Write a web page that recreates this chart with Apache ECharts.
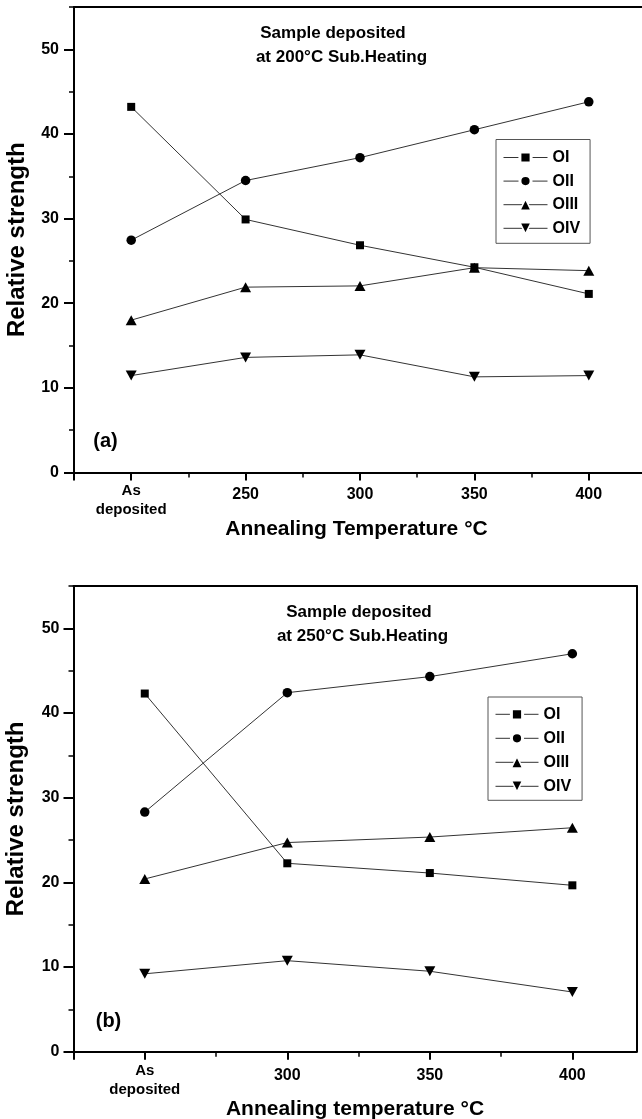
<!DOCTYPE html>
<html>
<head>
<meta charset="utf-8">
<style>
  html, body { margin: 0; padding: 0; background: #fff; overflow: hidden; }
  #chart { width: 642px; height: 1119px; }
</style>
<script src="https://cdn.jsdelivr.net/npm/echarts@6/dist/echarts.min.js"></script>
</head>
<body>
<div id="chart"></div>
<script>
// ---- Data ----
const seriesNames = ['OI', 'OII', 'OIII', 'OIV'];

// Panel (a): deposited at 200°C; "As deposited" placed at x = 200
const xA = [200, 250, 300, 350, 400];
const xALabels = [200, 250, 300, 350, 400];
const aOI   = [43.2, 29.9, 26.85, 24.25, 21.1];
const aOII  = [27.45, 34.5, 37.2, 40.5, 43.8];
const aOIII = [18.0, 21.9, 22.05, 24.2, 23.85];
const aOIV  = [11.45, 13.6, 13.9, 11.3, 11.45];

// Panel (b): deposited at 250°C; "As deposited" placed at x = 250
const xB = [250, 300, 350, 400];
const xBLabels = [250, 300, 350, 400];
const bOI   = [42.3, 22.25, 21.1, 19.65];
const bOII  = [28.3, 42.4, 44.3, 47.0];
const bOIII = [20.4, 24.7, 25.35, 26.45];
const bOIV  = [9.2, 10.75, 9.5, 7.05];

const yMajorTicks = [0, 10, 20, 30, 40, 50];
const yMinorTicks = [5, 15, 25, 35, 45, 55];

const FONT = '"Liberation Sans", Arial, sans-serif';

const chart = echarts.init(document.getElementById('chart'), null, { renderer: 'canvas' });

const symbols = {
  OI:   { symbol: 'rect', size: 8, rotate: 0 },
  OII:  { symbol: 'circle', size: 9.5, rotate: 0 },
  OIII: { symbol: 'triangle', size: [11, 10], rotate: 0 },
  OIV:  { symbol: 'triangle', size: [11, 10], rotate: 180 }
};

function pairs(xs, ys) { return xs.map((x, i) => [x, ys[i]]); }

function makeSeries(name, xs, ys, xIdx, yIdx) {
  const s = symbols[name];
  return {
    name: name,
    type: 'line',
    xAxisIndex: xIdx,
    yAxisIndex: yIdx,
    data: pairs(xs, ys),
    symbol: s.symbol,
    symbolSize: s.size,
    symbolRotate: s.rotate,
    showAllSymbol: true,
    lineStyle: { color: '#333', width: 1 },
    itemStyle: { color: '#000' },
    emphasis: { disabled: true },
    animation: false,
    z: 3
  };
}

function xMain(grid, min, max, labelVals, tickVals, asDepVal, name, nameGap, asLH, numLH, margin, namePad) {
  return {
    type: 'value', gridIndex: grid, position: 'bottom',
    min: min, max: max, interval: 25,
    axisLine: { show: true, onZero: false, lineStyle: { color: '#000', width: 2 } },
    axisTick: { show: true, inside: false, length: 8, customValues: tickVals, lineStyle: { color: '#000', width: 2 } },
    axisLabel: {
      show: true, margin: margin, customValues: labelVals,
      formatter: function (v) {
        if (v === asDepVal) return '{s|As}\n{s|deposited}';
        return '{n|' + v + '}';
      },
      rich: {
        s: { fontFamily: FONT, fontSize: 15, fontWeight: 'bold', color: '#000', lineHeight: asLH, align: 'center' },
        n: { fontFamily: FONT, fontSize: 16, fontWeight: 'bold', color: '#000', lineHeight: numLH }
      }
    },
    splitLine: { show: false },
    name: name, nameLocation: 'middle', nameGap: nameGap,
    nameTextStyle: { fontFamily: FONT, fontSize: 21, fontWeight: 'bold', color: '#000', padding: namePad }
  };
}
function xMinor(grid, min, max, tickVals) {
  return {
    type: 'value', gridIndex: grid, position: 'bottom',
    min: min, max: max, interval: 25,
    axisLine: { show: false, onZero: false },
    axisTick: { show: true, inside: false, length: 5, customValues: tickVals, lineStyle: { color: '#000', width: 1.5 } },
    axisLabel: { show: false },
    splitLine: { show: false }
  };
}
// frame lines only (top / right borders)
function xFrame(grid, min, max) {
  return {
    type: 'value', gridIndex: grid, position: 'top',
    min: min, max: max, interval: 25,
    axisLine: { show: true, onZero: false, lineStyle: { color: '#000', width: 2 } },
    axisTick: { show: false }, axisLabel: { show: false }, splitLine: { show: false }
  };
}
function yFrame(grid) {
  return {
    type: 'value', gridIndex: grid, position: 'right',
    min: 0, max: 55, interval: 5,
    axisLine: { show: true, onZero: false, lineStyle: { color: '#000', width: 2 } },
    axisTick: { show: false }, axisLabel: { show: false }, splitLine: { show: false }
  };
}
function yMain(grid, margin) {
  return {
    type: 'value', gridIndex: grid, position: 'left',
    min: 0, max: 55, interval: 5,
    axisLine: { show: true, onZero: false, lineStyle: { color: '#000', width: 2 } },
    axisTick: { show: true, inside: false, length: 10, customValues: yMajorTicks, lineStyle: { color: '#000', width: 2 } },
    axisLabel: { show: true, margin: margin, customValues: yMajorTicks, fontFamily: FONT, fontSize: 16, fontWeight: 'bold', color: '#000' },
    splitLine: { show: false },
    name: 'Relative strength', nameLocation: 'middle', nameGap: 45,
    nameTextStyle: { fontFamily: FONT, fontSize: 24, fontWeight: 'bold', color: '#000' }
  };
}
function yMinor(grid) {
  return {
    type: 'value', gridIndex: grid, position: 'left',
    min: 0, max: 55, interval: 5,
    axisLine: { show: false, onZero: false },
    axisTick: { show: true, inside: false, length: 5, customValues: yMinorTicks, lineStyle: { color: '#000', width: 1.5 } },
    axisLabel: { show: false },
    splitLine: { show: false }
  };
}

function legendAt(left, top, pad, gap, itemW) {
  return {
    data: [
      { name: 'OI', itemStyle: { borderWidth: 3 } },
      { name: 'OII', itemStyle: { borderWidth: 3 } },
      { name: 'OIII', itemStyle: { borderWidth: 1.5 } },
      { name: 'OIV', itemStyle: { borderWidth: 1.5 } }
    ],
    orient: 'vertical',
    left: left, top: top,
    padding: pad,
    itemGap: gap,
    itemWidth: itemW, itemHeight: 14,
    selectedMode: false,
    borderColor: '#555', borderWidth: 1,
    backgroundColor: '#fff',
    textStyle: { fontFamily: FONT, fontSize: 16, fontWeight: 'bold', color: '#000', lineHeight: 16 },
    itemStyle: { color: '#000', borderColor: '#fff', borderWidth: 3 },
    lineStyle: { color: '#333', width: 1 }
  };
}

function txt(x, y, s, size) {
  return { type: 'text', style: { x: x, y: y, text: s, fontFamily: FONT, fontSize: size, fontWeight: 'bold', fill: '#000', textAlign: 'center', textVerticalAlign: 'middle' } };
}

const option = {
  animation: false,
  backgroundColor: '#fff',
  grid: [
    { left: 74, top: 7, width: 580, height: 465.5, show: false, containLabel: false, outerBoundsMode: 'none' },
    { left: 73.5, top: 586, width: 563, height: 465.7, show: false, containLabel: false, outerBoundsMode: 'none' }
  ],
  xAxis: [
    xMain(0, 175, 428.5, xALabels, [175, 200, 250, 300, 350, 400], 200, 'Annealing Temperature °C', 46, 18.6, 26, 9, [0, 15, 0, 0]),
    xMinor(0, 175, 428.5, [225, 275, 325, 375]),
    xFrame(0, 175, 428.5),
    xMain(1, 225, 422.5, xBLabels, [225, 250, 300, 350, 400], 250, 'Annealing temperature °C', 43, 19, 27, 10, [0, 0, 0, 0]),
    xMinor(1, 225, 422.5, [275, 325, 375]),
    xFrame(1, 225, 422.5)
  ],
  yAxis: [
    yMain(0, 15), yMinor(0),
    yMain(1, 14), yMinor(1), yFrame(1)
  ],
  legend: [
    legendAt(496, 139.5, [10, 10, 7, 7], 7.6, 44),
    legendAt(488, 697, [9.3, 11, 6, 7], 8, 43)
  ],
  graphic: [
    txt(333, 33.5, 'Sample deposited', 17),
    txt(341.5, 57, 'at 200°C Sub.Heating', 17),
    txt(105.5, 441, '(a)', 20),
    txt(359, 612, 'Sample deposited', 17),
    txt(362.5, 636, 'at 250°C Sub.Heating', 17),
    txt(108.5, 1021, '(b)', 20)
  ],
  series: [
    makeSeries('OI', xA, aOI, 0, 0),
    makeSeries('OII', xA, aOII, 0, 0),
    makeSeries('OIII', xA, aOIII, 0, 0),
    makeSeries('OIV', xA, aOIV, 0, 0),
    makeSeries('OI', xB, bOI, 3, 2),
    makeSeries('OII', xB, bOII, 3, 2),
    makeSeries('OIII', xB, bOIII, 3, 2),
    makeSeries('OIV', xB, bOIV, 3, 2)
  ]
};
chart.setOption(option);
</script>
</body>
</html>
